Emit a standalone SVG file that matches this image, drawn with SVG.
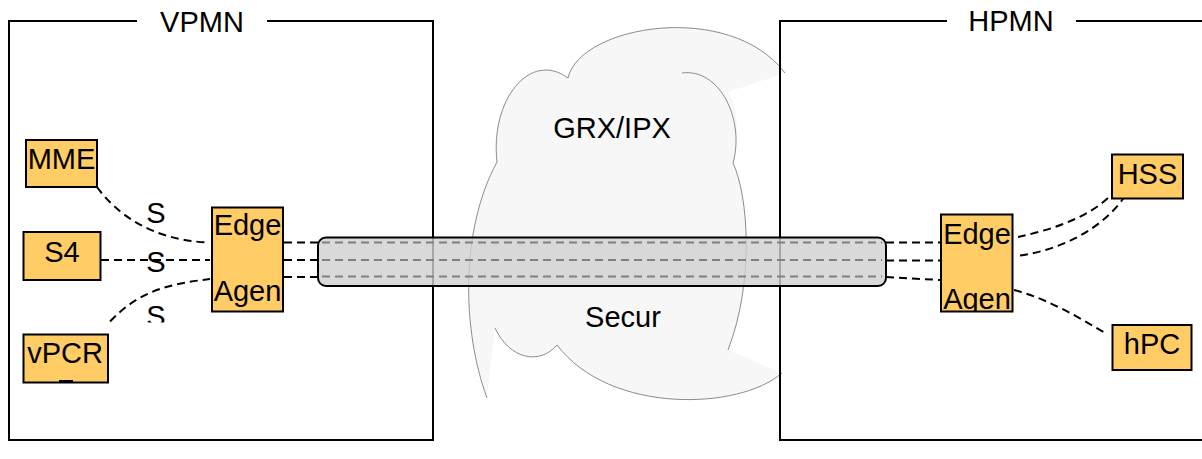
<svg xmlns="http://www.w3.org/2000/svg" width="1202" height="459" viewBox="0 0 1202 459">
<style>
text{font-family:"Liberation Sans",Arial,sans-serif;font-size:29px;fill:#000}
.c{text-anchor:middle}
.node{fill:#ffcc66;stroke:#000;stroke-width:2}
.frame{fill:none;stroke:#000;stroke-width:2}
.cl{fill:none;stroke:#8c8c8c;stroke-width:1}
.dl{fill:none;stroke:#000;stroke-width:2;stroke-dasharray:8,5}
.dg{fill:none;stroke:#808080;stroke-width:2;stroke-dasharray:8,5}
</style>
<defs>
<clipPath id="clipS"><rect x="130" y="295" width="60" height="27.5"/></clipPath>
<clipPath id="clipEA2"><rect x="940" y="213" width="74" height="98.5"/></clipPath>
</defs>
<rect width="1202" height="459" fill="#fff"/>
<g id="cloud">
<path d="M568,78 C580,25 730,0 785,73 L728,92 C745,120 733,163 733,163 C748,195 755,280 728,350 L781,373 C740,410 610,415 557,345 C540,365 510,360 495,328 L487,398 C462,330 460,230 497,162 C490,100 530,50 568,78 Z" fill="#f7f7f7"/>
<path class="cl" d="M568,78 C580,25 730,0 785,73"/>
<path class="cl" d="M682,73 C720,68 745,120 733,163 C748,195 755,280 728,350"/>
<path class="cl" d="M782,373 C740,410 610,415 557,345 C540,365 510,360 495,328"/>
<path class="cl" d="M487,398 C462,330 460,230 497,162 C490,100 530,50 568,78"/>
<text class="c" x="612" y="138">GRX/IPX</text>
<text class="c" x="623" y="327">Secur</text>
</g>
<g id="vpmn">
<path class="frame" d="M137,21 H9 V440 H433 V21 H267"/>
<text class="c" x="202" y="32">VPMN</text>
</g>
<g id="hpmn">
<path class="frame" d="M947,21 H780 V440 H1204 M1076,21 H1204"/>
<text class="c" x="1011" y="31">HPMN</text>
</g>
<g id="tunnel">
<rect x="318" y="237.5" width="568" height="48.5" rx="8" fill="#cfcfcf" fill-opacity="0.8" stroke="#000" stroke-width="2"/>
<path class="dg" d="M322,242.5 H882 M322,260 H882 M322,276.5 H882"/>
</g>
<g id="connectors">
<path class="dl" d="M97,187 C115,212 150,240 208,242.5"/>
<path class="dl" d="M101,260 H210"/>
<path class="dl" d="M110,321.5 C140,290 170,284 210,279"/>
<path class="dl" d="M284,242.5 H318 M284,260 H318 M284,277 H318"/>
<path class="dl" d="M886,242.5 H940 M886,260.5 H940 M886,277 L940,280"/>
<path class="dl" d="M1018,237 C1050,230 1090,218 1113,193"/>
<path class="dl" d="M1020,255.5 C1060,250 1100,230 1123,199"/>
<path class="dl" d="M1014,290 C1045,298 1075,315 1105,333"/>
<text class="c" x="156" y="223">S</text>
<text class="c" x="156" y="271.5">S</text>
<text class="c" x="156" y="326" clip-path="url(#clipS)">S</text>
</g>
<g id="mme">
<rect class="node" x="26" y="140" width="71" height="47"/>
<text class="c" x="61.5" y="169">MME</text>
</g>
<g id="s4">
<rect class="node" x="23.5" y="232" width="77" height="48"/>
<text class="c" x="62" y="262">S4</text>
</g>
<g id="vpcrf">
<rect class="node" x="23.5" y="334.5" width="84.5" height="48"/>
<text class="c" x="65" y="363">vPCR</text>
<line x1="59" y1="381" x2="73" y2="381" stroke="#000" stroke-width="2"/>
</g>
<g id="edge-agent-v">
<rect class="node" x="212" y="207.5" width="71" height="104"/>
<text class="c" x="247.5" y="235">Edge</text>
<text class="c" x="247.5" y="300.5">Agen</text>
</g>
<g id="edge-agent-h">
<rect class="node" x="941" y="214.5" width="71.5" height="97"/>
<g clip-path="url(#clipEA2)">
<text class="c" x="977" y="243.5">Edge</text>
<text class="c" x="977" y="308.5">Agen</text>
</g>
</g>
<g id="hss">
<rect class="node" x="1112" y="154.5" width="71" height="44"/>
<text class="c" x="1147.5" y="183.5">HSS</text>
</g>
<g id="hpc">
<rect class="node" x="1112.5" y="325" width="79" height="45"/>
<text class="c" x="1152" y="353.5">hPC</text>
</g>
</svg>
